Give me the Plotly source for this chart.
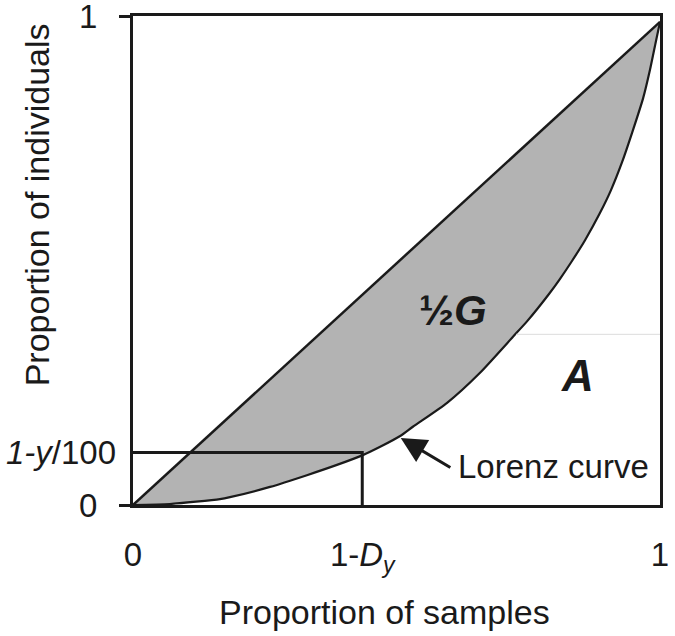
import plotly.graph_objects as go

# Lorenz curve: cumulative proportion of samples vs. proportion of individuals
lorenz_x = [0.0, 0.070, 0.165, 0.184, 0.260, 0.330, 0.387, 0.436, 0.469, 0.507,
            0.531, 0.596, 0.658, 0.721, 0.748, 0.789, 0.810, 0.833, 0.858,
            0.886, 0.907, 0.928, 0.947, 0.968, 0.981, 0.992, 1.0]
lorenz_y = [0.0, 0.002, 0.012, 0.016, 0.037, 0.061, 0.082, 0.102, 0.119, 0.141,
            0.160, 0.209, 0.270, 0.344, 0.376, 0.431, 0.462, 0.499, 0.542,
            0.597, 0.644, 0.701, 0.761, 0.832, 0.890, 0.947, 0.988]

# Line of perfect equality
equal_x = [0.0, 1.0]
equal_y = [0.0, 0.988]

# Reference level 1-y/100 and its position 1-D_y on the sample axis
level_y = 0.1075
level_x = 0.435

x_tick_vals = [0.0, level_x, 1.0]
x_tick_text = ["0", "1-<i>D</i><sub><i>y</i></sub>", "1"]
y_tick_vals = [0.0, 1.0]
y_tick_text = ["0", "1"]

INK = "#1a1a1a"
FONT = "Liberation Sans, Arial, sans-serif"
FS = 33
CURVE = dict(shape="spline", smoothing=0.6)

fig = go.Figure()

# Shaded area between the equality line and the Lorenz curve
fig.add_trace(go.Scatter(x=equal_x, y=equal_y, mode="lines",
                         line=dict(width=0), hoverinfo="skip", showlegend=False))
fig.add_trace(go.Scatter(x=lorenz_x, y=lorenz_y, mode="lines", fill="tonexty",
                         fillcolor="#b3b3b3", line=dict(width=0, **CURVE),
                         hoverinfo="skip", showlegend=False))

# Outlines
fig.add_trace(go.Scatter(x=equal_x, y=equal_y, mode="lines",
                         line=dict(color=INK, width=2.5), showlegend=False))
fig.add_trace(go.Scatter(x=lorenz_x, y=lorenz_y, mode="lines",
                         line=dict(color=INK, width=2.2, **CURVE),
                         showlegend=False))

# Guide lines marking 1-y/100 and 1-D_y
fig.add_trace(go.Scatter(x=[0.0, level_x, level_x], y=[level_y, level_y, 0.0],
                         mode="lines", line=dict(color=INK, width=3),
                         showlegend=False))

# Faint boundary of area A
fig.add_shape(type="line", x0=0.727, x1=1.0, y0=0.349, y1=0.349,
              xref="x", yref="y", line=dict(color="#dddddd", width=1))

# Area labels
fig.add_annotation(x=0.608, y=0.397, xref="x", yref="y", showarrow=False,
                   xanchor="center", yanchor="middle",
                   text="<b>½<i>G</i></b>", font=dict(size=42, color=INK, family=FONT))
fig.add_annotation(x=0.844, y=0.264, xref="x", yref="y", showarrow=False,
                   xanchor="center", yanchor="middle",
                   text="<b><i>A</i></b>", font=dict(size=44, color=INK, family=FONT))

# Lorenz curve callout
fig.add_annotation(x=0.797, y=0.079, xref="x", yref="y", showarrow=False,
                   xanchor="center", yanchor="middle",
                   text="Lorenz curve", font=dict(size=FS, color=INK, family=FONT))
fig.add_annotation(x=0.508, y=0.137, ax=0.605, ay=0.075, xref="x", yref="y",
                   axref="x", ayref="y", text="", showarrow=True,
                   arrowhead=2, arrowsize=1.7, arrowwidth=3, arrowcolor=INK)

# Extra y label at the 1-y/100 level
fig.add_annotation(x=0, y=level_y, xref="paper", yref="y", xanchor="right",
                   yanchor="middle", xshift=-15, showarrow=False,
                   text="<i>1-y</i>/100",
                   font=dict(size=FS, color=INK, family=FONT))

# Axis titles
fig.add_annotation(x=0.478, y=-0.219, xref="paper", yref="paper", showarrow=False,
                   xanchor="center", yanchor="middle",
                   text="Proportion of samples",
                   font=dict(size=34, color=INK, family=FONT))
fig.add_annotation(x=-0.182, y=0.613, xref="paper", yref="paper", showarrow=False,
                   xanchor="center", yanchor="middle",
                   text="Proportion of individuals", textangle=-90,
                   font=dict(size=34, color=INK, family=FONT))

fig.update_xaxes(range=[0, 1], showgrid=False, zeroline=False, automargin=False,
                 showline=True, linecolor=INK, linewidth=3, mirror=True,
                 tickvals=x_tick_vals, ticktext=x_tick_text, ticks="",
                 ticklabelstandoff=18, ticklabeloverflow="allow",
                 tickfont=dict(size=FS, color=INK, family=FONT))
fig.update_yaxes(range=[0, 1], showgrid=False, zeroline=False, automargin=False,
                 showline=True, linecolor=INK, linewidth=3, mirror=True,
                 tickvals=y_tick_vals, ticktext=y_tick_text,
                 ticks="outside", ticklen=11, tickwidth=3, tickcolor=INK,
                 ticklabelstandoff=15, ticklabeloverflow="allow",
                 tickfont=dict(size=FS, color=INK, family=FONT))

fig.update_layout(width=675, height=636,
                  margin=dict(l=133, r=15, t=16, b=131),
                  plot_bgcolor="white", paper_bgcolor="white",
                  showlegend=False)

fig.write_html("out.html")
